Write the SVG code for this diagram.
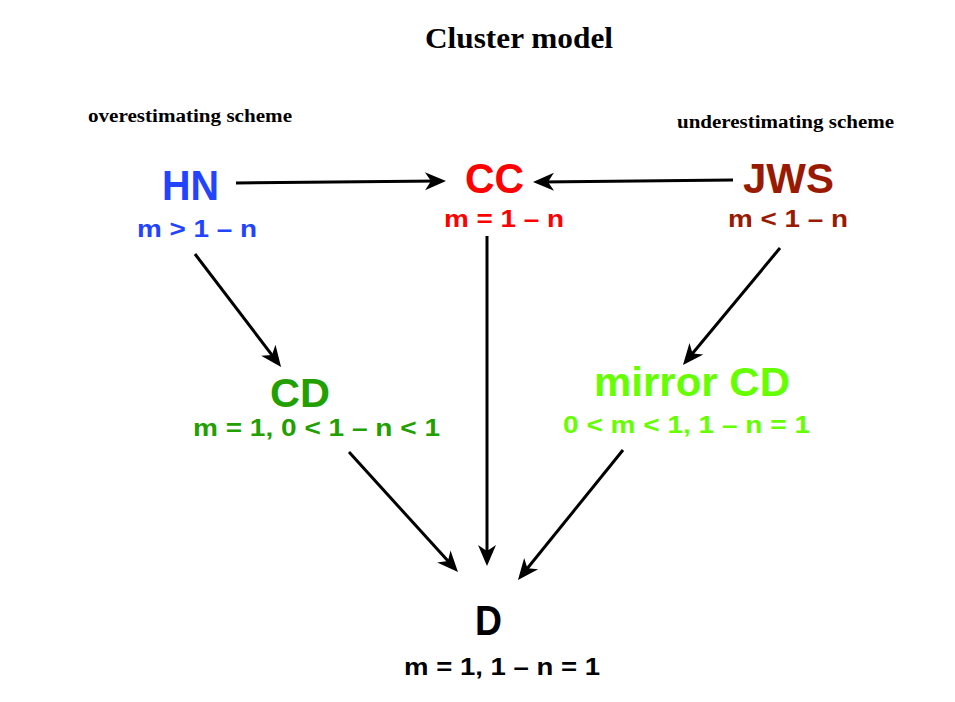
<svg xmlns="http://www.w3.org/2000/svg" width="955" height="702" viewBox="0 0 955 702">
<style>
.title{font-family:"Liberation Serif",serif;font-weight:bold;font-size:30px;fill:#000}
.scheme{font-family:"Liberation Serif",serif;font-weight:bold;font-size:18px;fill:#000}
.big{font-family:"Liberation Sans",Arial,sans-serif;font-weight:bold;font-size:42px;text-anchor:middle}
.sub{font-family:"Liberation Sans",Arial,sans-serif;font-weight:bold;font-size:24px;text-anchor:middle}
.conn line{stroke:#000;stroke-width:3;fill:none;marker-end:url(#ah)}
</style>
<defs>
<marker id="ah" markerUnits="userSpaceOnUse" viewBox="-22 -10 24 20" markerWidth="24" markerHeight="20" refX="-8" refY="0" orient="auto">
<path d="M0,0 L-21,-9 L-15,0 L-21,9 Z" fill="#000"/>
</marker>
</defs>
<rect width="955" height="702" fill="#fff"/>
<text class="title" x="425" y="48" textLength="188" lengthAdjust="spacingAndGlyphs">Cluster model</text>
<text class="scheme" x="88" y="122" textLength="204" lengthAdjust="spacingAndGlyphs">overestimating scheme</text>
<text class="scheme" x="677" y="128" textLength="217" lengthAdjust="spacingAndGlyphs">underestimating scheme</text>
<g class="conn">
<line x1="236" y1="183" x2="438" y2="181"/>
<line x1="733" y1="180" x2="541" y2="182"/>
<line x1="195" y1="254" x2="276.2" y2="360.6"/>
<line x1="487" y1="236" x2="487" y2="558"/>
<line x1="780" y1="248" x2="688.1" y2="358.8"/>
<line x1="349" y1="452" x2="452.6" y2="566.1"/>
<line x1="623" y1="450" x2="523" y2="573.8"/>
</g>
<g id="HN">
<text class="big" x="190.5" y="200" fill="#2244ff" textLength="57" lengthAdjust="spacingAndGlyphs">HN</text>
<text class="sub" x="197" y="237" fill="#2244ff" textLength="120" lengthAdjust="spacingAndGlyphs">m &gt; 1 – n</text>
</g>
<g id="CC">
<text class="big" x="494.5" y="193" fill="#ff0000" textLength="59" lengthAdjust="spacingAndGlyphs">CC</text>
<text class="sub" x="504" y="227" fill="#ff0000" textLength="120" lengthAdjust="spacingAndGlyphs">m = 1 – n</text>
</g>
<g id="JWS">
<text class="big" x="788.5" y="193" fill="#991a00" textLength="91" lengthAdjust="spacingAndGlyphs">JWS</text>
<text class="sub" x="788" y="227" fill="#991a00" textLength="120" lengthAdjust="spacingAndGlyphs">m &lt; 1 – n</text>
</g>
<g id="CD">
<text class="big" x="300" y="406.5" fill="#22a000" style="font-size:40px" textLength="60" lengthAdjust="spacingAndGlyphs">CD</text>
<text class="sub" x="316.5" y="436" fill="#22a000" textLength="247" lengthAdjust="spacingAndGlyphs">m = 1, 0 &lt; 1 – n &lt; 1</text>
</g>
<g id="mirrorCD">
<text class="big" x="692" y="396" fill="#66ff00" style="font-size:40px" textLength="196" lengthAdjust="spacingAndGlyphs">mirror CD</text>
<text class="sub" x="686.5" y="433" fill="#66ff00" textLength="247" lengthAdjust="spacingAndGlyphs">0 &lt; m &lt; 1, 1 – n = 1</text>
</g>
<g id="D">
<text class="big" x="488.5" y="635" fill="#000" textLength="27" lengthAdjust="spacingAndGlyphs">D</text>
<text class="sub" x="502" y="675" fill="#000" textLength="196" lengthAdjust="spacingAndGlyphs">m = 1, 1 – n = 1</text>
</g>
</svg>
